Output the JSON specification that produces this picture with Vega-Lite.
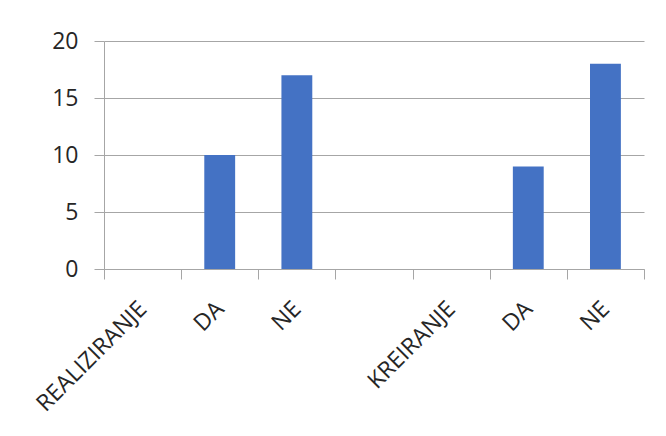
{
  "$schema": "https://vega.github.io/schema/vega-lite/v6.json",
  "autosize": {"type": "none"},
  "width": 540,
  "height": 228,
  "padding": {"left": 104, "top": 41, "right": 22, "bottom": 167},
  "background": "white",
  "data": {
    "values": [
      {"kljuc": "1|REALIZIRANJE", "broj": null},
      {"kljuc": "2|DA", "broj": 10},
      {"kljuc": "3|NE", "broj": 17},
      {"kljuc": "4|", "broj": null},
      {"kljuc": "5|KREIRANJE", "broj": null},
      {"kljuc": "6|DA", "broj": 9},
      {"kljuc": "7|NE", "broj": 18}
    ]
  },
  "mark": {"type": "bar", "color": "#4472C4", "width": {"band": 0.4}},
  "encoding": {
    "x": {
      "field": "kljuc",
      "type": "nominal",
      "sort": null,
      "scale": {
        "domain": ["1|REALIZIRANJE", "2|DA", "3|NE", "4|", "5|KREIRANJE", "6|DA", "7|NE"],
        "paddingInner": 0,
        "paddingOuter": 0
      },
      "axis": {
        "title": null,
        "labelExpr": "split(datum.value, '|')[1]",
        "labelAngle": -45,
        "labelAlign": "right",
        "labelBaseline": "middle",
        "labelPadding": 26,
        "labelFontSize": 23,
        "tickBand": "extent",
        "tickSize": 10,
        "tickColor": "#a6a6a6",
        "domainColor": "#a6a6a6",
        "grid": false
      }
    },
    "y": {
      "field": "broj",
      "type": "quantitative",
      "scale": {"domain": [0, 20], "nice": false},
      "axis": {
        "title": null,
        "values": [0, 5, 10, 15, 20],
        "grid": true,
        "gridColor": "#a6a6a6",
        "tickSize": 10,
        "tickColor": "#a6a6a6",
        "domainColor": "#a6a6a6",
        "labelPadding": 16,
        "labelFontSize": 23
      }
    }
  },
  "config": {
    "view": {"stroke": null},
    "axis": {
      "labelFont": "Open Sans",
      "labelColor": "#262626",
      "domainWidth": 1,
      "tickWidth": 1,
      "gridWidth": 1
    }
  }
}
